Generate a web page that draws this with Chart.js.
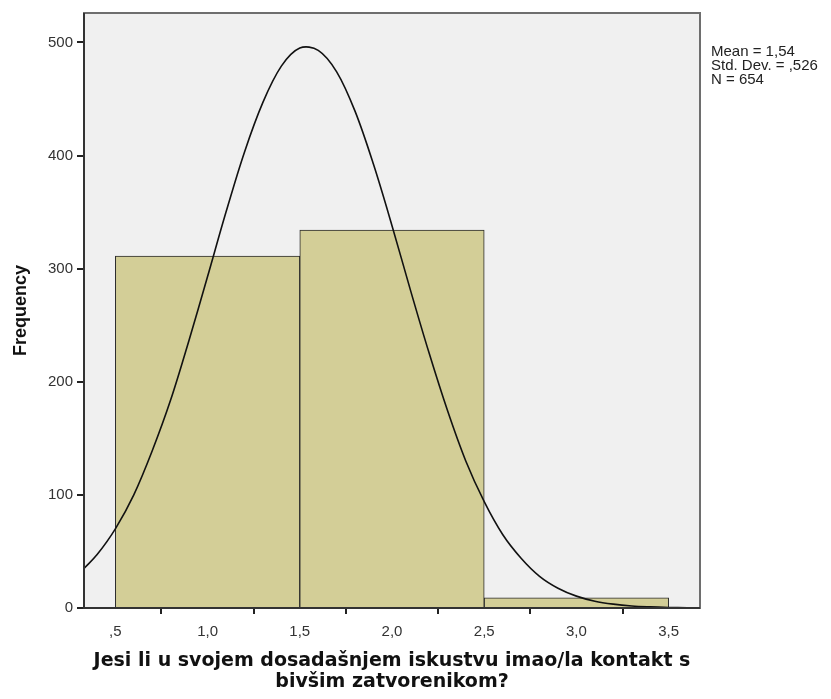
<!DOCTYPE html>
<html>
<head>
<meta charset="utf-8">
<script src="https://cdn.jsdelivr.net/npm/chart.js@4/dist/chart.umd.min.js"></script>
<style>
  html, body { margin: 0; padding: 0; background: #fff; }
  #wrap { width: 831px; height: 699px; }
</style>
</head>
<body>
<div id="wrap"><canvas id="c"></canvas></div>
<script>
// histogram bins (centre of bin) and counts
const binCenters = [1, 2, 3];
const binCounts = [311, 334, 9];

// normal curve
const curveX = [0.33, 0.4, 0.5, 0.6, 0.7, 0.8, 0.9, 1.0, 1.1, 1.2, 1.3, 1.4, 1.5, 1.6, 1.7, 1.8, 1.9,
                2.0, 2.1, 2.2, 2.3, 2.4, 2.5, 2.6, 2.7, 2.8, 2.9, 3.0, 3.1, 3.2, 3.3, 3.4, 3.5, 3.6, 3.67];
const curveY = [35, 47, 70, 100, 139, 184, 237, 293, 350, 403, 447, 479, 495, 493, 474, 439, 392,
                338, 281, 226, 175, 130, 94, 65, 44, 28, 17.5, 10.5, 6, 3.4, 1.8, 1, 0.5, 0.2, 0.1];

const xTicks = [0.5, 1.0, 1.5, 2.0, 2.5, 3.0, 3.5];
const xTickLabels = [',5', '1,0', '1,5', '2,0', '2,5', '3,0', '3,5'];
const yTicks = [0, 100, 200, 300, 400, 500];

const statsLines = ['Mean = 1,54', 'Std. Dev. = ,526', 'N = 654'];
const xTitle = ['Jesi li u svojem dosadašnjem iskustvu imao/la kontakt s', 'bivšim zatvorenikom?'];

const FONT = '"Liberation Sans", Arial, sans-serif';
const TITLE_FONT = '"DejaVu Sans", Verdana, sans-serif';

// siva pozadina i okvir grafa, plus tekst sa statistikom
const framePlugin = {
    id: 'frame',
    beforeDatasetsDraw(chart) {
        const a = chart.chartArea, ctx = chart.ctx;
        ctx.save();
        ctx.fillStyle = '#f0f0f0';
        ctx.fillRect(a.left, a.top, a.right - a.left, a.bottom - a.top);
        ctx.restore();
    },
    afterDraw(chart) {
        const a = chart.chartArea, ctx = chart.ctx;
        ctx.save();
        ctx.strokeStyle = '#6e6e6e';
        ctx.lineWidth = 2;
        ctx.strokeRect(a.left, a.top, a.right - a.left, a.bottom - a.top);
        ctx.strokeStyle = '#333';
        ctx.beginPath();
        ctx.moveTo(a.left, a.top);
        ctx.lineTo(a.left, a.bottom);
        ctx.lineTo(a.right, a.bottom);
        ctx.stroke();
        ctx.fillStyle = '#222';
        ctx.font = '15px ' + FONT;
        ctx.textBaseline = 'middle';
        statsLines.forEach((s, i) => ctx.fillText(s, a.right + 11, 52 + i * 14));
        ctx.restore();
    }
};

const tickFont = { family: FONT, size: 15 };

new Chart(document.getElementById('c'), {
    type: 'bar',
    data: {
        datasets: [
            {
                type: 'bar',
                data: binCenters.map((x, i) => ({ x: x, y: binCounts[i] })),
                backgroundColor: '#d3ce97',
                borderColor: '#2a2a2a',
                borderWidth: 1,
                barThickness: 'flex',
                barPercentage: 1,
                categoryPercentage: 1,
                order: 1
            },
            {
                type: 'line',
                data: curveX.map((x, i) => ({ x: x, y: curveY[i] })),
                borderColor: '#111',
                borderWidth: 1.6,
                pointRadius: 0,
                tension: 0.35,
                fill: false,
                order: 0
            }
        ]
    },
    options: {
        responsive: true,
        maintainAspectRatio: false,
        animation: false,
        layout: { padding: { top: 12, right: 131, left: 0, bottom: 0 } },
        plugins: {
            legend: { display: false },
            tooltip: { enabled: false }
        },
        scales: {
            x: {
                type: 'linear',
                offset: false,
                min: 0.33,
                max: 3.67,
                afterBuildTicks: s => { s.ticks = xTicks.map(v => ({ value: v })); },
                afterFit: s => { s.height = 91; },
                grid: { drawOnChartArea: false, drawTicks: true, tickLength: 6, color: '#222', lineWidth: 2 },
                border: { display: false },
                ticks: {
                    color: '#333',
                    font: tickFont,
                    padding: 9,
                    maxRotation: 0,
                    autoSkip: false,
                    callback: (v, i) => xTickLabels[i]
                },
                title: {
                    display: true,
                    text: xTitle,
                    color: '#111',
                    font: { family: TITLE_FONT, size: 19, weight: 'bold', lineHeight: 21 / 19 },
                    padding: { top: 0, bottom: 6 }
                }
            },
            y: {
                min: 0,
                max: 526,
                afterBuildTicks: s => { s.ticks = yTicks.map(v => ({ value: v })); },
                afterFit: s => { s.width = 84; },
                grid: { drawOnChartArea: false, drawTicks: true, tickLength: 7, color: '#222', lineWidth: 2 },
                border: { display: false },
                ticks: { color: '#333', font: tickFont, padding: 4 },
                title: {
                    display: true,
                    text: 'Frequency',
                    color: '#111',
                    font: { family: FONT, size: 18, weight: 'bold' },
                    padding: { top: 10, bottom: 0 }
                }
            }
        }
    },
    plugins: [framePlugin]
});
</script>
</body>
</html>
